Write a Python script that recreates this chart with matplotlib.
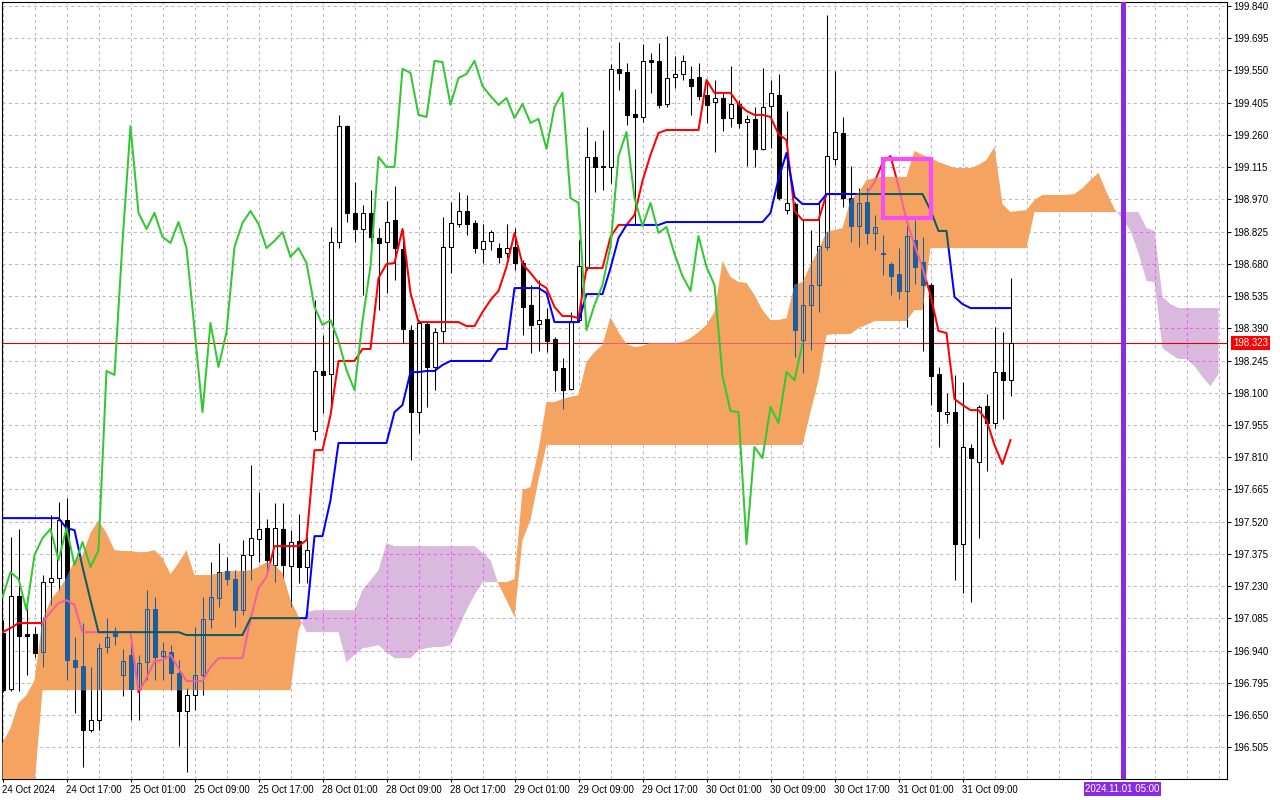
import numpy as np
import matplotlib
matplotlib.use("Agg")
import matplotlib.pyplot as plt
from matplotlib.path import Path
from matplotlib.collections import LineCollection
from matplotlib.patches import Rectangle

plt.rcParams['font.family'] = ['Liberation Sans', 'DejaVu Sans']

# ---------------- data (H1 bars, index 0 = 24 Oct 2024 09:00) ----------------
opens = [197.019, 196.767, 197.185, 197.014, 197.014, 196.933, 197.248, 197.266, 197.527, 196.897,
         196.870, 196.582, 196.627, 196.956, 197.028, 196.830, 196.920, 196.767, 196.888, 197.127,
         196.915, 196.933, 196.839, 196.668, 196.740, 196.830, 197.082, 197.176, 197.298, 197.262,
         197.122, 197.370, 197.442, 197.491, 197.325, 197.487, 197.320, 197.433, 197.316, 197.928,
         198.198, 198.184, 198.778, 199.300, 198.909, 198.837, 198.909, 198.796, 198.778, 198.877,
         198.747, 198.382, 198.013, 198.409, 198.216, 198.378, 198.756, 198.859, 198.918, 198.864,
         198.747, 198.783, 198.751, 198.729, 198.756, 198.684, 198.495, 198.409, 198.432, 198.342,
         198.211, 198.117, 198.427, 198.666, 199.161, 199.120, 199.116, 199.557, 199.543, 199.354,
         199.341, 199.597, 199.593, 199.399, 199.521, 199.534, 199.512, 199.521, 199.440, 199.408,
         199.426, 199.336, 199.399, 199.318, 199.332, 199.197, 199.390, 199.440, 198.922, 198.950,
         198.337, 198.495, 198.585, 198.756, 199.152, 199.269, 198.976, 198.850, 198.958, 198.819,
         198.729, 198.679, 198.634, 198.558, 198.787, 198.688, 198.585, 198.184, 198.004, 198.013,
         197.419, 197.851, 197.788, 198.040, 197.964, 198.193, 198.157]
highs = [197.077, 197.451, 197.487, 197.181, 197.046, 197.280, 197.550, 197.608, 197.626, 197.001,
         197.064, 196.866, 196.974, 197.086, 197.046, 196.947, 196.987, 196.920, 197.212, 197.181,
         196.978, 196.965, 196.897, 196.771, 197.046, 197.181, 197.338, 197.424, 197.361, 197.302,
         197.437, 197.775, 197.653, 197.532, 197.604, 197.604, 197.482, 197.554, 197.451, 198.517,
         198.360, 198.846, 199.350, 199.305, 199.048, 198.945, 199.012, 198.841, 198.963, 199.030,
         198.832, 198.405, 198.427, 198.418, 198.391, 198.891, 198.958, 199.003, 198.990, 198.877,
         198.859, 198.832, 198.774, 198.859, 198.841, 198.697, 198.585, 198.607, 198.481, 198.351,
         198.256, 198.463, 198.787, 199.296, 199.233, 199.282, 199.579, 199.678, 199.584, 199.467,
         199.669, 199.629, 199.674, 199.705, 199.615, 199.620, 199.570, 199.584, 199.507, 199.507,
         199.449, 199.570, 199.417, 199.350, 199.386, 199.561, 199.507, 199.534, 199.368, 198.960,
         198.877, 198.832, 198.954, 199.800, 199.548, 199.341, 199.120, 199.021, 199.021, 198.900,
         198.810, 198.688, 198.751, 198.855, 198.877, 198.801, 198.594, 198.216, 198.099, 198.180,
         198.148, 197.869, 198.045, 198.094, 198.396, 198.373, 198.616]
lows = [196.753, 196.758, 196.758, 196.830, 196.911, 196.866, 197.145, 197.212, 196.807, 196.659,
        196.416, 196.573, 196.582, 196.929, 196.965, 196.735, 196.627, 196.627, 196.807, 196.807,
        196.807, 196.762, 196.510, 196.393, 196.672, 196.740, 197.041, 197.136, 197.235, 197.046,
        197.100, 197.257, 197.338, 197.289, 197.248, 197.266, 197.136, 197.244, 197.244, 197.887,
        198.009, 198.022, 198.751, 198.868, 198.778, 198.540, 198.720, 198.472, 198.549, 198.607,
        198.324, 197.797, 197.919, 198.036, 198.112, 198.324, 198.639, 198.846, 198.810, 198.729,
        198.684, 198.742, 198.684, 198.706, 198.652, 198.360, 198.279, 198.288, 198.283, 198.108,
        198.027, 198.112, 198.418, 198.652, 199.003, 199.012, 199.044, 199.462, 199.305, 198.859,
        199.318, 199.449, 199.381, 199.386, 199.471, 199.507, 199.350, 199.417, 199.314, 199.183,
        199.278, 199.296, 199.291, 199.120, 199.116, 199.192, 199.201, 198.967, 198.904, 198.261,
        198.189, 198.292, 198.463, 198.742, 199.125, 198.936, 198.778, 198.756, 198.769, 198.742,
        198.630, 198.540, 198.522, 198.396, 198.589, 198.288, 198.045, 197.856, 197.964, 197.257,
        197.199, 197.158, 197.446, 197.748, 197.941, 197.982, 198.085]
closes = [196.762, 197.185, 197.005, 197.005, 196.929, 197.248, 197.266, 197.527, 196.897, 196.866,
          196.582, 196.627, 196.951, 197.001, 197.005, 196.893, 196.767, 196.884, 197.127, 196.911,
          196.938, 196.839, 196.668, 196.740, 196.830, 197.082, 197.181, 197.293, 197.262, 197.122,
          197.370, 197.446, 197.487, 197.347, 197.491, 197.325, 197.428, 197.316, 197.392, 198.198,
          198.180, 198.778, 199.300, 198.909, 198.837, 198.909, 198.801, 198.774, 198.868, 198.751,
          198.387, 198.013, 198.414, 198.216, 198.373, 198.756, 198.864, 198.918, 198.859, 198.751,
          198.783, 198.823, 198.711, 198.751, 198.684, 198.486, 198.405, 198.427, 198.333, 198.202,
          198.112, 198.423, 198.670, 199.161, 199.116, 199.116, 199.557, 199.539, 199.350, 199.341,
          199.593, 199.588, 199.395, 199.516, 199.534, 199.593, 199.480, 199.435, 199.395, 199.426,
          199.336, 199.399, 199.314, 199.332, 199.197, 199.386, 199.449, 198.976, 198.954, 198.382,
          198.495, 198.585, 198.760, 199.165, 199.273, 198.976, 198.850, 198.954, 198.819, 198.846,
          198.724, 198.625, 198.558, 198.805, 198.666, 198.585, 198.175, 198.018, 198.013, 197.419,
          197.856, 197.806, 198.036, 197.964, 198.193, 198.157, 198.323]

tenkan = [197.023, 197.041, 197.064, 197.064, 197.064, 197.064, 197.113, 197.154, 197.167, 197.145,
          197.023, 197.023, 197.023, 197.023, 197.023, 197.023, 197.023, 196.753, 196.816, 196.893,
          196.897, 196.920, 196.861, 196.803, 196.803, 196.803, 196.866, 196.906, 196.906, 196.906,
          196.906, 197.082, 197.221, 197.271, 197.410, 197.410, 197.410, 197.410, 197.437, 197.842,
          197.842, 197.999, 198.243, 198.243, 198.243, 198.297, 198.297, 198.616, 198.679, 198.684,
          198.837, 198.549, 198.418, 198.418, 198.418, 198.418, 198.418, 198.418, 198.400, 198.400,
          198.463, 198.517, 198.558, 198.666, 198.819, 198.679, 198.639, 198.594, 198.571, 198.486,
          198.445, 198.445, 198.436, 198.661, 198.661, 198.661, 198.801, 198.855, 198.855, 198.900,
          199.053, 199.170, 199.269, 199.282, 199.282, 199.282, 199.282, 199.282, 199.507, 199.449,
          199.449, 199.449, 199.399, 199.368, 199.350, 199.350, 199.341, 199.264, 199.237, 198.918,
          198.877, 198.877, 198.877, 198.994, 198.994, 198.994, 198.994, 198.994, 198.994, 199.048,
          199.134, 199.165, 199.030, 198.877, 198.765, 198.661, 198.540, 198.378, 198.369, 198.072,
          198.045, 198.022, 198.022, 197.977, 197.865, 197.779, 197.887]
kijun = [197.536, 197.536, 197.536, 197.536, 197.536, 197.536, 197.536, 197.536, 197.491, 197.482,
         197.316, 197.167, 197.023, 197.023, 197.023, 197.023, 197.023, 197.023, 197.023, 197.023,
         197.023, 197.023, 197.023, 197.010, 197.010, 197.010, 197.010, 197.010, 197.010, 197.010,
         197.010, 197.086, 197.086, 197.086, 197.086, 197.086, 197.086, 197.086, 197.086, 197.455,
         197.455, 197.617, 197.874, 197.874, 197.874, 197.874, 197.874, 197.874, 197.874, 198.013,
         198.045, 198.193, 198.193, 198.198, 198.198, 198.225, 198.243, 198.243, 198.243, 198.243,
         198.243, 198.243, 198.297, 198.297, 198.571, 198.571, 198.571, 198.571, 198.549, 198.418,
         198.418, 198.418, 198.418, 198.544, 198.544, 198.544, 198.661, 198.796, 198.855, 198.855,
         198.855, 198.855, 198.855, 198.868, 198.868, 198.868, 198.868, 198.868, 198.868, 198.868,
         198.868, 198.868, 198.868, 198.868, 198.868, 198.868, 198.909, 199.062, 199.179, 198.981,
         198.949, 198.949, 198.949, 198.994, 198.994, 198.994, 198.994, 198.994, 198.994, 198.994,
         198.994, 198.994, 198.994, 198.994, 198.994, 198.994, 198.922, 198.828, 198.828, 198.531,
         198.499, 198.481, 198.481, 198.481, 198.481, 198.481, 198.481]
span_a = [196.524, 196.591, 196.704, 196.740, 196.807, 197.077, 197.167, 197.212, 197.266, 197.347,
          197.370, 197.469, 197.527, 197.469, 197.392, 197.388, 197.388, 197.383, 197.383, 197.392,
          197.356, 197.284, 197.334, 197.392, 197.280, 197.280, 197.280, 197.289, 197.298, 197.298,
          197.298, 197.302, 197.316, 197.338, 197.325, 197.289, 197.167, 197.095, 197.023, 197.023,
          197.023, 197.023, 197.023, 196.888, 196.920, 196.951, 196.956, 196.965, 196.933, 196.906,
          196.906, 196.906, 196.942, 196.951, 196.956, 196.956, 196.965, 197.041, 197.122, 197.190,
          197.248, 197.248, 197.248, 197.248, 197.262, 197.662, 197.676, 197.842, 198.058, 198.058,
          198.072, 198.081, 198.090, 198.238, 198.283, 198.315, 198.441, 198.373, 198.319, 198.306,
          198.310, 198.324, 198.324, 198.324, 198.324, 198.328, 198.346, 198.373, 198.405, 198.463,
          198.693, 198.621, 198.598, 198.594, 198.540, 198.472, 198.427, 198.427, 198.436, 198.585,
          198.598, 198.675, 198.742, 198.823, 198.832, 198.841, 198.967, 198.999, 199.057, 199.066,
          199.071, 199.071, 199.071, 199.071, 199.188, 199.170, 199.156, 199.138, 199.125, 199.111,
          199.111, 199.111, 199.125, 199.147, 199.206, 198.949, 198.913, 198.918, 198.922, 198.967,
          198.990, 198.990, 198.990, 198.990, 198.994, 199.021, 199.057, 199.089, 199.003, 198.927,
          198.882, 198.828, 198.729, 198.603, 198.598, 198.301, 198.274, 198.252, 198.252, 198.220,
          198.171, 198.130, 198.184]
span_b = [196.267, 196.281, 196.299, 196.317, 196.335, 196.762, 196.762, 196.762, 196.762, 196.762,
          196.762, 196.762, 196.762, 196.762, 196.762, 196.762, 196.762, 196.762, 196.762, 196.762,
          196.762, 196.762, 196.762, 196.762, 196.762, 196.762, 196.762, 196.762, 196.762, 196.762,
          196.762, 196.762, 196.762, 196.762, 196.762, 196.762, 196.762, 197.032, 197.113, 197.122,
          197.122, 197.122, 197.122, 197.122, 197.122, 197.212, 197.257, 197.302, 197.424, 197.410,
          197.410, 197.410, 197.410, 197.410, 197.410, 197.410, 197.410, 197.410, 197.410, 197.410,
          197.379, 197.347, 197.239, 197.167, 197.091, 197.437, 197.527, 197.707, 197.865, 197.865,
          197.865, 197.865, 197.865, 197.865, 197.865, 197.865, 197.865, 197.865, 197.865, 197.865,
          197.865, 197.865, 197.865, 197.865, 197.865, 197.865, 197.865, 197.865, 197.865, 197.865,
          197.865, 197.865, 197.865, 197.865, 197.865, 197.865, 197.865, 197.865, 197.865, 197.865,
          197.865, 198.013, 198.157, 198.360, 198.364, 198.364, 198.364, 198.391, 198.405, 198.423,
          198.423, 198.423, 198.423, 198.423, 198.472, 198.472, 198.751, 198.751, 198.751, 198.751,
          198.751, 198.751, 198.751, 198.751, 198.751, 198.751, 198.751, 198.751, 198.751, 198.913,
          198.913, 198.913, 198.913, 198.913, 198.913, 198.913, 198.913, 198.913, 198.913, 198.913,
          198.913, 198.913, 198.913, 198.841, 198.828, 198.531, 198.499, 198.481, 198.481, 198.481,
          198.481, 198.481, 198.481]

time_labels = ['24 Oct 2024', '24 Oct 17:00', '25 Oct 01:00', '25 Oct 09:00', '25 Oct 17:00',
               '28 Oct 01:00', '28 Oct 09:00', '28 Oct 17:00', '29 Oct 01:00', '29 Oct 09:00',
               '29 Oct 17:00', '30 Oct 01:00', '30 Oct 09:00', '30 Oct 17:00', '31 Oct 01:00',
               '31 Oct 09:00']
price_labels = ['196.505', '196.650', '196.795', '196.940', '197.085', '197.230', '197.375', '197.520',
                '197.665', '197.810', '197.955', '198.100', '198.245', '198.390', '198.535', '198.680',
                '198.825', '198.970', '199.115', '199.260', '199.405', '199.550', '199.695', '199.840']
last_price = 198.323
marker_bar = 140
marker_label = '2024.11.01 05:00'
box_bars = (110, 116)
box_prices = (198.888, 199.152)

# ---------------- styling ----------------
ORANGE = '#F4A460'
PURPLE = '#D9B9DD'
GRID = '#C2B6C6'
GRID_IN_PURPLE = '#F25CF2'
BLUE_IN = '#1D5E9F'
PINK_IN = '#F0609E'
TEAL_IN = '#0C5A62'
HLINE_IN = '#E4607E'
LW = 1.45

W, H = 1280, 800
fig = plt.figure(figsize=(W / 100, H / 100), dpi=100, facecolor='white')
ax = fig.add_axes([2 / W, 21 / H, 1225 / W, 777.5 / H])
X0, X1 = -0.0625, 153.0625
Y0, Y1 = 196.3624, 199.8602
ax.set_xlim(X0, X1)
ax.set_ylim(Y0, Y1)
ax.set_facecolor('white')

o = np.array(opens); hi = np.array(highs); lo = np.array(lows); c = np.array(closes)
n = len(o)
xs = np.arange(n)
price_ticks = [float(s) for s in price_labels]


def grid_lines(color, z):
    segs = [[(X0, p), (X1, p)] for p in price_ticks]
    segs += [[(b, Y0), (b, Y1)] for b in range(0, 153, 4)]
    lc = LineCollection(segs, colors=color, linewidths=0.75, linestyles=[(0, (3, 3))], zorder=z)
    ax.add_collection(lc)
    return lc


grid_lines(GRID, 0.5)

# cloud
xc = np.arange(len(span_a))
A = np.array(span_a); B = np.array(span_b)
purple = ax.fill_between(xc, A, B, where=A < B, interpolate=True, facecolor=PURPLE,
                         edgecolor='none', linewidth=0, zorder=1)
orange = ax.fill_between(xc, A, B, where=A >= B, interpolate=True, facecolor=ORANGE,
                         edgecolor='none', linewidth=0, zorder=5)
ppath = Path.make_compound_path(*purple.get_paths())
opath = Path.make_compound_path(*orange.get_paths())

g2 = grid_lines(GRID_IN_PURPLE, 1.1)
g2.set_clip_path(ppath, ax.transData)

# last price line
ax.axhline(last_price, color='#E00000', lw=0.8, zorder=1.5)
hl2 = ax.axhline(last_price, color=HLINE_IN, lw=0.8, zorder=5.5)
hl2.set_clip_path(opath, ax.transData)

# candles
wick_segs = [[(i, lo[i]), (i, hi[i])] for i in range(n)]
bb = np.minimum(o, c)
bh = np.maximum(np.abs(c - o), 0.0045)
bull = c >= o
ax.add_collection(LineCollection(wick_segs, colors='black', linewidths=0.75, zorder=2))
ax.bar(xs, bh, bottom=bb, width=0.5, color=['white' if u else 'black' for u in bull],
       edgecolor='black', linewidth=0.75, zorder=3)

w2 = LineCollection(wick_segs, colors=BLUE_IN, linewidths=0.75, zorder=6)
ax.add_collection(w2)
w2.set_clip_path(opath, ax.transData)
bars2 = ax.bar(xs, bh, bottom=bb, width=0.5, color=['none' if u else BLUE_IN for u in bull],
               edgecolor=BLUE_IN, linewidth=0.75, zorder=6.05)
for p in bars2:
    p.set_clip_path(opath, ax.transData)

# ichimoku lines
ax.plot(xs, tenkan, color='#FF0000', lw=LW, zorder=4)
ax.plot(xs, kijun, color='#0000FF', lw=LW, zorder=4.1)
t2, = ax.plot(xs, tenkan, color=PINK_IN, lw=LW, zorder=6.1)
t2.set_clip_path(opath, ax.transData)
k2, = ax.plot(xs, kijun, color=TEAL_IN, lw=LW, zorder=6.2)
k2.set_clip_path(opath, ax.transData)
chikou = closes[26:]
ax.plot(np.arange(len(chikou)), chikou, color='#32C832', lw=LW, zorder=6.3)

# markers
ax.axvline(marker_bar, color='#8A2BE2', lw=3.6, zorder=8)
ax.add_patch(Rectangle((box_bars[0], box_prices[0]), box_bars[1] - box_bars[0],
                       box_prices[1] - box_prices[0], fill=False, edgecolor='#F74CF7',
                       linewidth=3.0, joinstyle='miter', zorder=8))

# axes
for s in ax.spines.values():
    s.set_color('black')
    s.set_linewidth(0.8)
ax.yaxis.tick_right()
ax.set_yticks(price_ticks)
ax.set_yticklabels(price_labels)
ax.set_xticks(np.arange(len(time_labels)) * 8)
ax.set_xticklabels(time_labels)
for lab in ax.get_xticklabels():
    lab.set_ha('left')
ax.tick_params(axis='y', direction='out', length=3, width=0.75, pad=1.5, labelsize=7, colors='black')
ax.tick_params(axis='x', direction='out', length=2.5, width=0.75, pad=1.5, labelsize=7, colors='black')

fig.text(1233 / W, 1 - 343.2 / H, f'{last_price:.3f}', ha='left', va='center', color='white', fontsize=7,
         bbox=dict(boxstyle='square,pad=0.18', facecolor='#FF0000', edgecolor='none'))
fig.text((2.5 + marker_bar * 8) / W, 1 - 789 / H, marker_label, ha='center', va='center', color='white',
         fontsize=7, bbox=dict(boxstyle='square,pad=0.18', facecolor='#8A2BE2', edgecolor='none'))

fig.savefig('out.png', dpi=100, facecolor='white')
